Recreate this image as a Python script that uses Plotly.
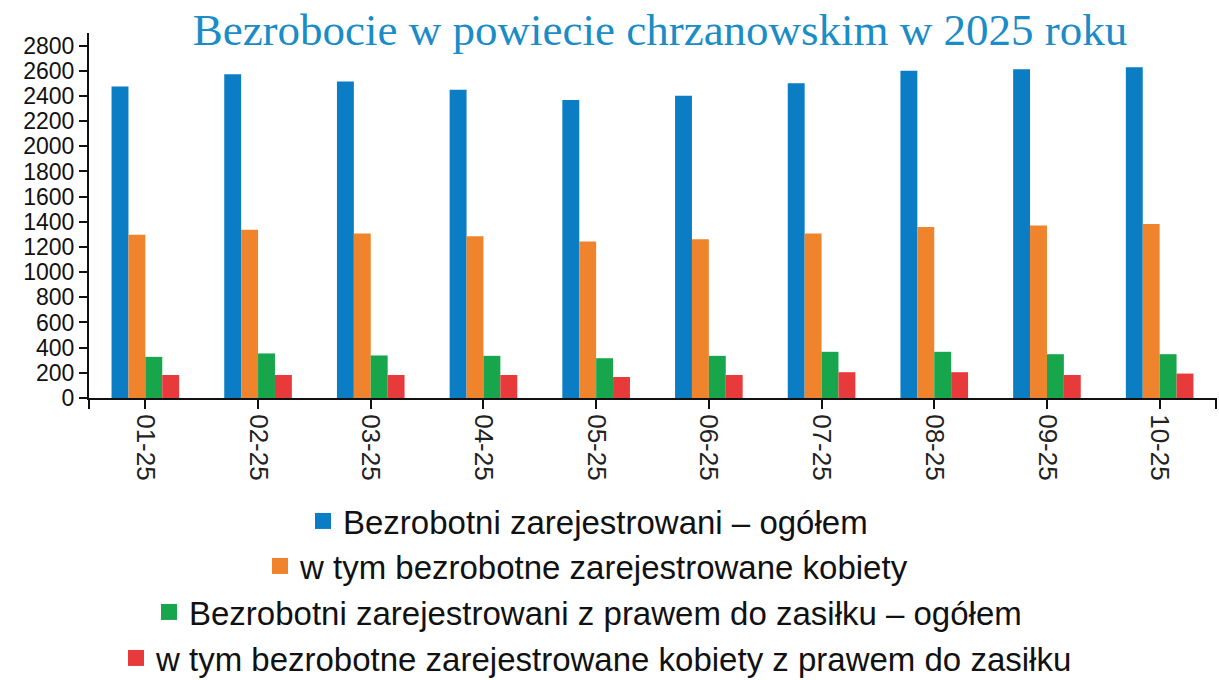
import plotly.graph_objects as go

months = ["01-25", "02-25", "03-25", "04-25", "05-25", "06-25", "07-25", "08-25", "09-25", "10-25"]
ogolem = [2475, 2572, 2514, 2450, 2367, 2402, 2500, 2601, 2612, 2628]
kobiety = [1297, 1337, 1307, 1286, 1243, 1262, 1307, 1358, 1371, 1382]
zasilek_ogolem = [327, 354, 338, 335, 316, 335, 367, 367, 348, 348]
zasilek_kobiety = [183, 183, 183, 183, 167, 183, 205, 205, 183, 194]

names = [
    "Bezrobotni zarejestrowani – ogółem",
    "w tym bezrobotne zarejestrowane kobiety",
    "Bezrobotni zarejestrowani z prawem do zasiłku – ogółem",
    "w tym bezrobotne zarejestrowane kobiety z prawem do zasiłku",
]
colors = ["#0a7dc4", "#f0842c", "#17a64b", "#e8393b"]
series = [ogolem, kobiety, zasilek_ogolem, zasilek_kobiety]

fig = go.Figure()
for vals, col, name in zip(series, colors, names):
    fig.add_trace(go.Bar(x=months, y=vals, name=name, marker_color=col,
                         marker_line_width=0, showlegend=False))

legend_keys = ["legend", "legend2", "legend3", "legend4"]
for col, name, key in zip(colors, names, legend_keys):
    fig.add_trace(go.Scatter(x=[None], y=[None], mode="markers", name=name,
                             marker=dict(symbol="square", size=21, color=col),
                             legend=key, showlegend=True))

legend_ys = [521, 566, 612, 658]
legend_xs = [588, 587, 588, 597]
leg_common = dict(orientation="h", xref="container", yref="container",
                  xanchor="center", yanchor="middle", bgcolor="rgba(0,0,0,0)",
                  font=dict(family="Liberation Sans, Arial", size=33, color="#111"),
                  itemwidth=30)
layout_legends = {}
for key, ly, lx in zip(legend_keys, legend_ys, legend_xs):
    layout_legends[key] = dict(x=lx / 1219, y=1 - ly / 680, **leg_common)

fig.update_layout(
    width=1219, height=680,
    margin=dict(l=89, r=3, t=33, b=282),
    paper_bgcolor="white", plot_bgcolor="white",
    barmode="group", bargap=0.4, bargroupgap=0,
    title=dict(text="Bezrobocie w powiecie chrzanowskim w 2025 roku",
               font=dict(family="Liberation Serif, Times New Roman", size=45, color="#1a8cc6"),
               x=660 / 1219, xanchor="center", y=1 - 29 / 680, yanchor="middle"),
    xaxis=dict(type="category", range=[-0.5, 9.5], showline=True, linecolor="#111", linewidth=2,
               ticks="outside", ticklen=9, tickwidth=2, tickcolor="#111", tickangle=90,
               tickfont=dict(family="Liberation Sans, Arial", size=26, color="#222"),
               showgrid=False, zeroline=False, automargin=False),
    yaxis=dict(range=[0, 2900], dtick=200, tick0=0, showline=True, linecolor="#111", linewidth=2,
               ticks="outside", ticklen=8, tickwidth=2, tickcolor="#111",
               tickfont=dict(family="Liberation Sans, Arial", size=23, color="#111"),
               showgrid=False, zeroline=False, automargin=False),
    shapes=[
        dict(type="line", xref="paper", yref="paper", x0=0, x1=0, ysizemode="pixel",
             yanchor=0, y0=0, y1=-11, line=dict(color="#111", width=2)),
        dict(type="line", xref="paper", yref="paper", x0=1, x1=1, ysizemode="pixel",
             yanchor=0, y0=0, y1=-11, line=dict(color="#111", width=2)),
    ],
    **layout_legends,
)

fig.write_html("out.html", config={"displayModeBar": False},
               post_script="document.body.style.margin='0';")
